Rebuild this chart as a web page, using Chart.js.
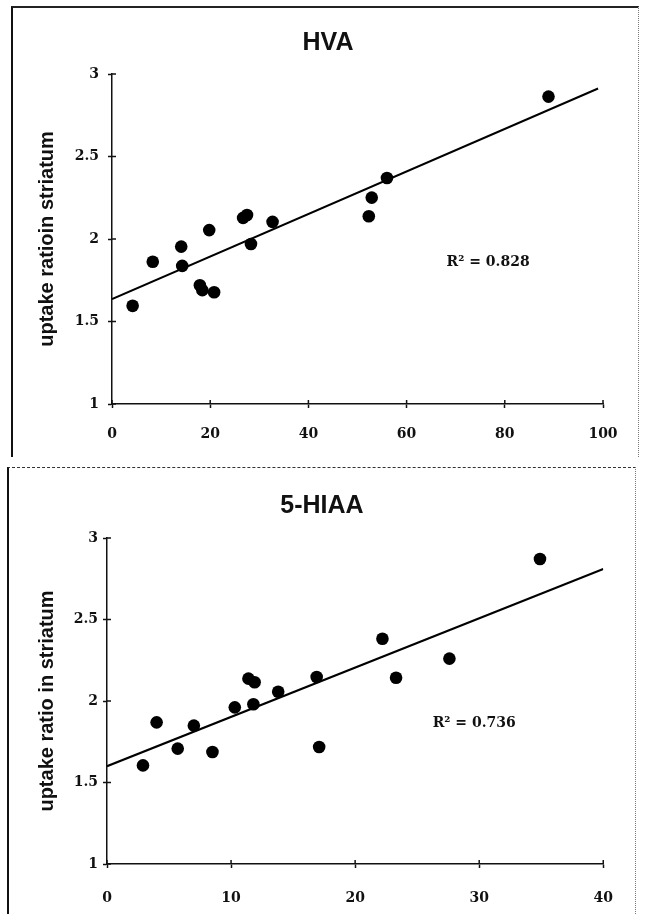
<!DOCTYPE html>
<html>
<head>
    <title>Uptake ratio in striatum vs HVA / 5-HIAA</title>
    <style>
        body {
            margin: 0;
            width: 645px;
            height: 914px;
            background: #fff;
            position: relative;
            overflow: hidden;
        }
        canvas, .frame {
            position: absolute;
        }
        #hvaChart { left: 12px; top: 7px; }
        #hiaaChart { left: 8px; top: 468px; }
        #frameTop {
            left: 11px; top: 6px; width: 625px; height: 449px;
            border-left: 2px solid #111;
            border-top: 2px solid #222;
            border-right: 1px dotted #777;
        }
        #frameBottom {
            left: 7px; top: 467px; width: 626px; height: 460px;
            border-left: 2px solid #111;
            border-top: 1px dashed #333;
            border-right: 1px dotted #777;
        }
    </style>
    <script src="https://cdn.jsdelivr.net/npm/chart.js"></script>
</head>
<body>
    <div class="frame" id="frameTop"></div>
    <div class="frame" id="frameBottom"></div>
    <canvas id="hvaChart" width="625" height="448"></canvas>
    <canvas id="hiaaChart" width="627" height="446"></canvas>

    <script>
        // HVA panel
        const hvaX = [4.2, 8.3, 14.1, 14.3, 17.9, 18.4, 20.8, 19.8, 26.7, 27.5, 28.3, 32.7, 52.3, 52.9, 56.0, 88.9];
        const hvaY = [1.595, 1.862, 1.954, 1.837, 1.72, 1.69, 1.677, 2.054, 2.128, 2.145, 1.97, 2.104, 2.138, 2.251, 2.37, 2.863];
        const hvaFitX = [0, 99];
        const hvaFitY = [1.636, 2.912];
        const hvaXTicks = [0, 20, 40, 60, 80, 100];
        const hvaR2 = 'R\u00B2 = 0.828';
        const hvaR2At = [76.6, 1.859];

        // 5-HIAA panel
        const hiaaX = [2.9, 4.0, 5.7, 7.0, 8.5, 10.3, 11.4, 11.9, 11.8, 13.8, 16.9, 17.1, 22.2, 23.3, 27.6, 34.9];
        const hiaaY = [1.605, 1.869, 1.708, 1.849, 1.687, 1.961, 2.137, 2.115, 1.98, 2.057, 2.147, 1.718, 2.382, 2.143, 2.26, 2.871];
        const hiaaFitX = [0, 40];
        const hiaaFitY = [1.6, 2.81];
        const hiaaXTicks = [0, 10, 20, 30, 40];
        const hiaaR2 = 'R\u00B2 = 0.736';
        const hiaaR2At = [29.6, 1.86];

        const yTicks = [1, 1.5, 2, 2.5, 3];
        const yTickLabels = ['1', '1.5', '2', '2.5', '3'];

        const tickFont = { family: "'DejaVu Serif', serif", size: 14, weight: 'bold' };

        // title, inner half of the crossing tick marks, R² text
        const extrasPlugin = {
            id: 'extras',
            afterDraw(chart, args, opts) {
                const ctx = chart.ctx;
                const xs = chart.scales.x, ys = chart.scales.y;
                ctx.save();
                ctx.strokeStyle = '#111';
                ctx.lineWidth = 1.5;
                xs.ticks.forEach(t => {
                    const px = xs.getPixelForValue(t.value);
                    ctx.beginPath();
                    ctx.moveTo(px, xs.top);
                    ctx.lineTo(px, xs.top - 4);
                    ctx.stroke();
                });
                ys.ticks.forEach(t => {
                    const py = ys.getPixelForValue(t.value);
                    ctx.beginPath();
                    ctx.moveTo(ys.right, py);
                    ctx.lineTo(ys.right + 4, py);
                    ctx.stroke();
                });
                ctx.fillStyle = '#111';
                ctx.textAlign = 'center';
                ctx.textBaseline = 'middle';
                ctx.font = "bold 14px 'DejaVu Serif', serif";
                ctx.fillText(opts.text, xs.getPixelForValue(opts.at[0]), ys.getPixelForValue(opts.at[1]));
                ctx.font = "bold 25px 'Liberation Sans', Arial, sans-serif";
                ctx.fillText(opts.title, opts.titleX, opts.titleY);
                ctx.restore();
            }
        };

        function makePoints(xs, ys) {
            return xs.map((x, i) => ({ x: x, y: ys[i] }));
        }

        function createScatter(canvasId, cfg) {
            const ctx = document.getElementById(canvasId).getContext('2d');
            return new Chart(ctx, {
                type: 'scatter',
                data: {
                    datasets: [{
                        data: makePoints(cfg.x, cfg.y),
                        backgroundColor: '#000',
                        borderWidth: 0,
                        pointRadius: 6.3
                    }, {
                        type: 'line',
                        data: makePoints(cfg.fitX, cfg.fitY),
                        borderColor: '#000',
                        borderWidth: 2,
                        pointRadius: 0,
                        fill: false
                    }]
                },
                options: {
                    responsive: false,
                    animation: false,
                    layout: { padding: { left: 0, right: cfg.padRight, top: cfg.padTop, bottom: 0 } },
                    scales: {
                        x: {
                            type: 'linear',
                            min: cfg.xTicks[0],
                            max: cfg.xTicks[cfg.xTicks.length - 1],
                            afterBuildTicks: s => { s.ticks = cfg.xTicks.map(v => ({ value: v })); },
                            afterFit: s => { s.height = cfg.xAxisH; },
                            border: { display: true, color: '#111', width: 1.5, dash: [4, 1] },
                            grid: { drawOnChartArea: false, drawTicks: true, tickLength: 4, tickColor: '#111', tickWidth: 1.5 },
                            ticks: { color: '#111', font: tickFont, padding: cfg.xTickPad, maxRotation: 0 }
                        },
                        y: {
                            min: 1,
                            max: 3,
                            afterBuildTicks: s => { s.ticks = yTicks.map(v => ({ value: v })); },
                            afterFit: s => { s.width = cfg.yAxisW; },
                            border: { display: true, color: '#111', width: 1.5, dash: [4, 1] },
                            grid: { drawOnChartArea: false, drawTicks: true, tickLength: 4, tickColor: '#111', tickWidth: 1.5 },
                            ticks: {
                                color: '#111',
                                font: tickFont,
                                padding: cfg.yTickPad,
                                callback: v => yTickLabels[yTicks.indexOf(v)]
                            },
                            title: {
                                display: true,
                                text: cfg.yTitle,
                                color: '#111',
                                font: { family: "'Liberation Sans', Arial, sans-serif", size: 20, weight: 'bold' },
                                padding: { top: cfg.yTitlePad, bottom: 0 }
                            }
                        }
                    },
                    plugins: {
                        legend: { display: false },
                        tooltip: { enabled: false },
                        extras: {
                            text: cfg.r2, at: cfg.r2At,
                            title: cfg.title, titleX: cfg.titleX, titleY: cfg.titleY
                        }
                    }
                },
                plugins: [extrasPlugin]
            });
        }

        createScatter('hvaChart', {
            x: hvaX, y: hvaY, fitX: hvaFitX, fitY: hvaFitY, xTicks: hvaXTicks,
            title: 'HVA', yTitle: 'uptake ratioin striatum', r2: hvaR2, r2At: hvaR2At,
            padRight: 34, padTop: 67, xAxisH: 51, yAxisW: 100, xTickPad: 18, yTickPad: 9, yTitlePad: 23,
            titleX: 316, titleY: 36
        });

        createScatter('hiaaChart', {
            x: hiaaX, y: hiaaY, fitX: hiaaFitX, fitY: hiaaFitY, xTicks: hiaaXTicks,
            title: '5-HIAA', yTitle: 'uptake ratio in striatum', r2: hiaaR2, r2At: hiaaR2At,
            padRight: 28, padTop: 70, xAxisH: 50, yAxisW: 99, xTickPad: 22, yTickPad: 5, yTitlePad: 27,
            titleX: 314, titleY: 38
        });
    </script>
</body>
</html>
